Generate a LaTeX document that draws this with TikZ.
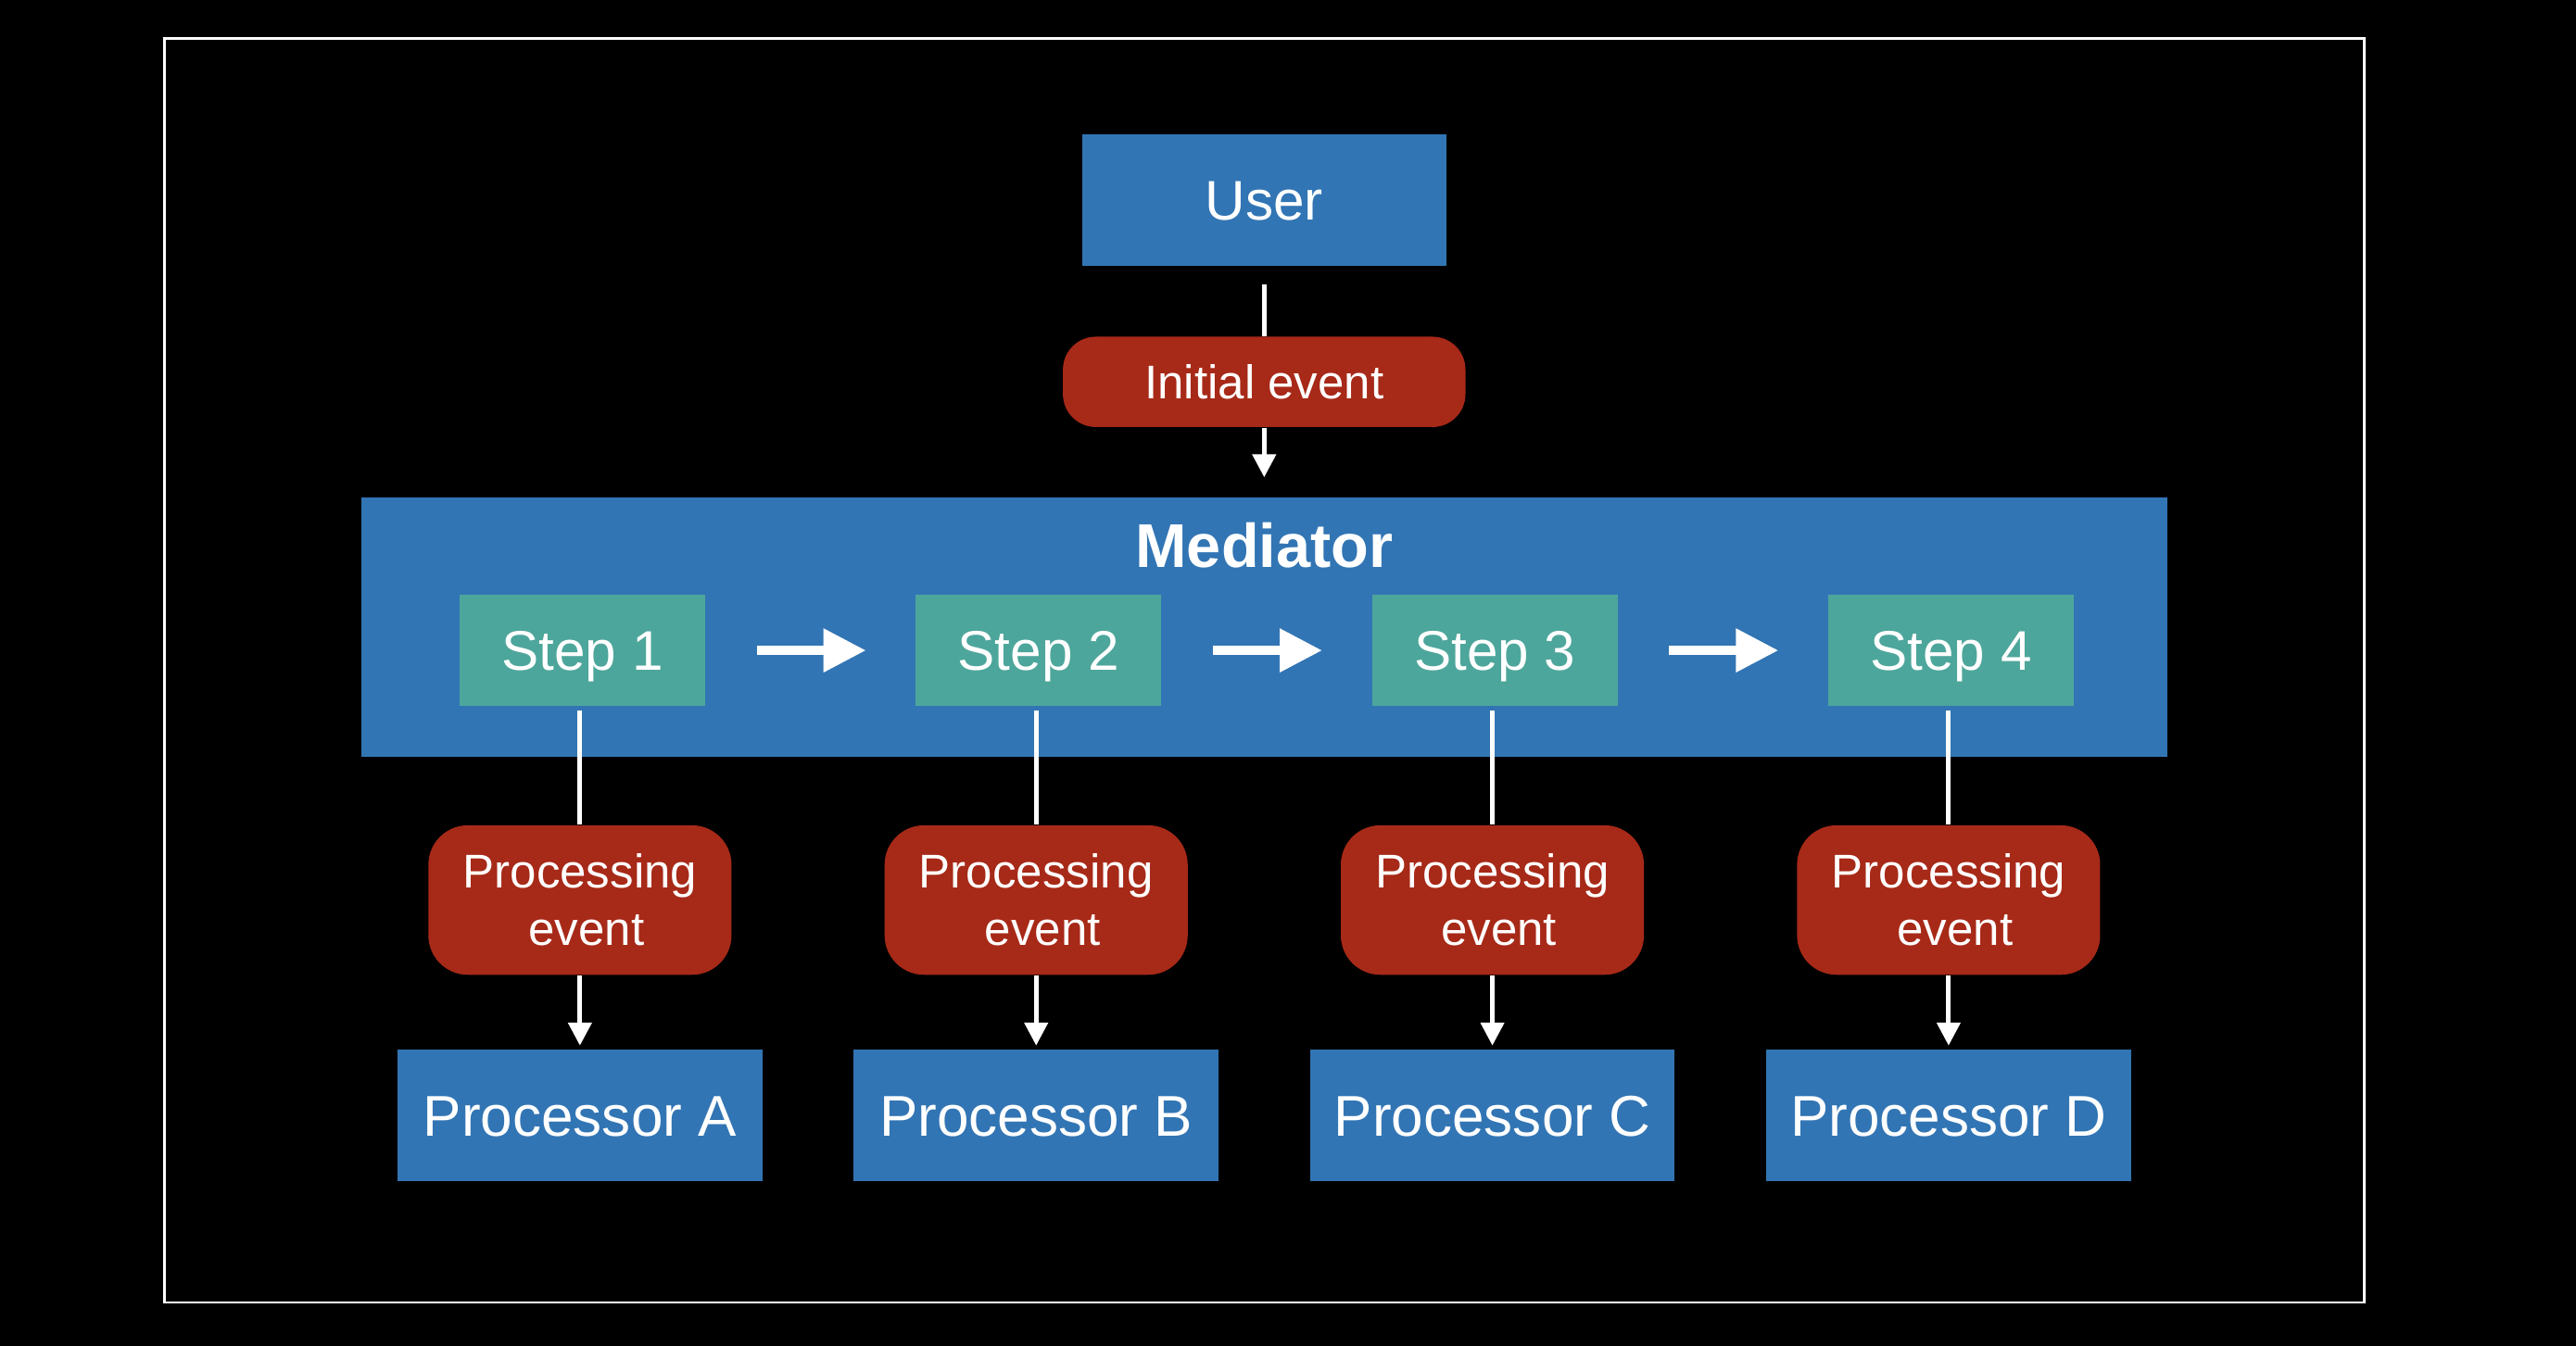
\documentclass[tikz,border=0pt]{standalone}
\usepackage{fontspec}
\setmainfont{Liberation Sans}
\usetikzlibrary{arrows.meta}
\definecolor{boxblue}{RGB}{50,117,180}
\definecolor{stepteal}{RGB}{77,166,155}
\definecolor{evred}{RGB}{167,41,24}
\begin{document}
\begin{tikzpicture}[x=0.5pt,y=-0.5pt,
  bluebox/.style={fill=boxblue, text=white, inner sep=0pt, minimum width=111pt, minimum height=40pt,
    font=\fontsize{17}{20}\selectfont, text height=12.2pt, text depth=0pt},
  procbox/.style={bluebox, font=\fontsize{17.5}{20}\selectfont, text height=12.5pt},
  stepbox/.style={fill=stepteal, text=white, inner sep=0pt, minimum width=74.75pt, minimum height=34pt,
    font=\fontsize{17}{20}\selectfont, text height=12.2pt, text depth=0pt},
  evbox/.style={fill=evred, rounded corners=10pt, text=white, inner sep=0pt, align=center,
    font=\fontsize{14.4}{17.5}\selectfont},
  conn/.style={white, line width=1.4pt},
  arr/.style={conn, -{Triangle[width=7pt,length=7pt]}},
  bigarr/.style={white, line width=2.6pt, -{Triangle[width=12.7pt,length=12.9pt]}}
]
% background and frame
\fill[black] (0,0) rectangle (1568,819.5);
\useasboundingbox (0,0) rectangle (1568,819.5);
\draw[white, line width=0.75pt] (100,23.5) rectangle (1439,793);

% top
\node[bluebox] (user) at (769.5,122) {User};
\node[evbox, minimum width=122.5pt, minimum height=27.5pt, text height=10.3pt, text depth=0pt] (init) at (769.5,232.5) {Initial event};

% mediator
\node[fill=boxblue, inner sep=0pt, minimum width=549.5pt, minimum height=79pt] (med) at (769.5,382) {};
\node[text=white, inner sep=0pt, font=\fontsize{18.8}{22}\bfseries] (medlabel) at (769.5,332) {Mediator};

\draw[conn, shorten <=5.5pt] (user) -- (init);
\draw[arr, shorten >=6pt] (init) -- (med);

% steps
\foreach \i/\x/\L in {1/354.5/A,2/632.2/B,3/909.9/C,4/1187.6/D}{
  \node[stepbox] (s\i) at (\x,396) {Step \i};
  \node[evbox, rounded corners=12pt, minimum width=92.25pt, minimum height=45.5pt] (pe\i) at (\x-1.5,548) {Processing\\\hspace*{4pt}event};
  \node[procbox] (p\i) at (\x-1.5,679) {Processor \L};
  \draw[conn, shorten <=1pt] (s\i.south -| pe\i.north) -- (pe\i.north);
  \draw[arr, shorten >=1pt] (pe\i) -- (p\i);
}
\foreach \a/\b in {1/2,2/3,3/4}{
  \draw[bigarr] ([xshift=15.5pt]s\a.east) -- ([xshift=-15pt]s\b.west);
}
\end{tikzpicture}
\end{document}
